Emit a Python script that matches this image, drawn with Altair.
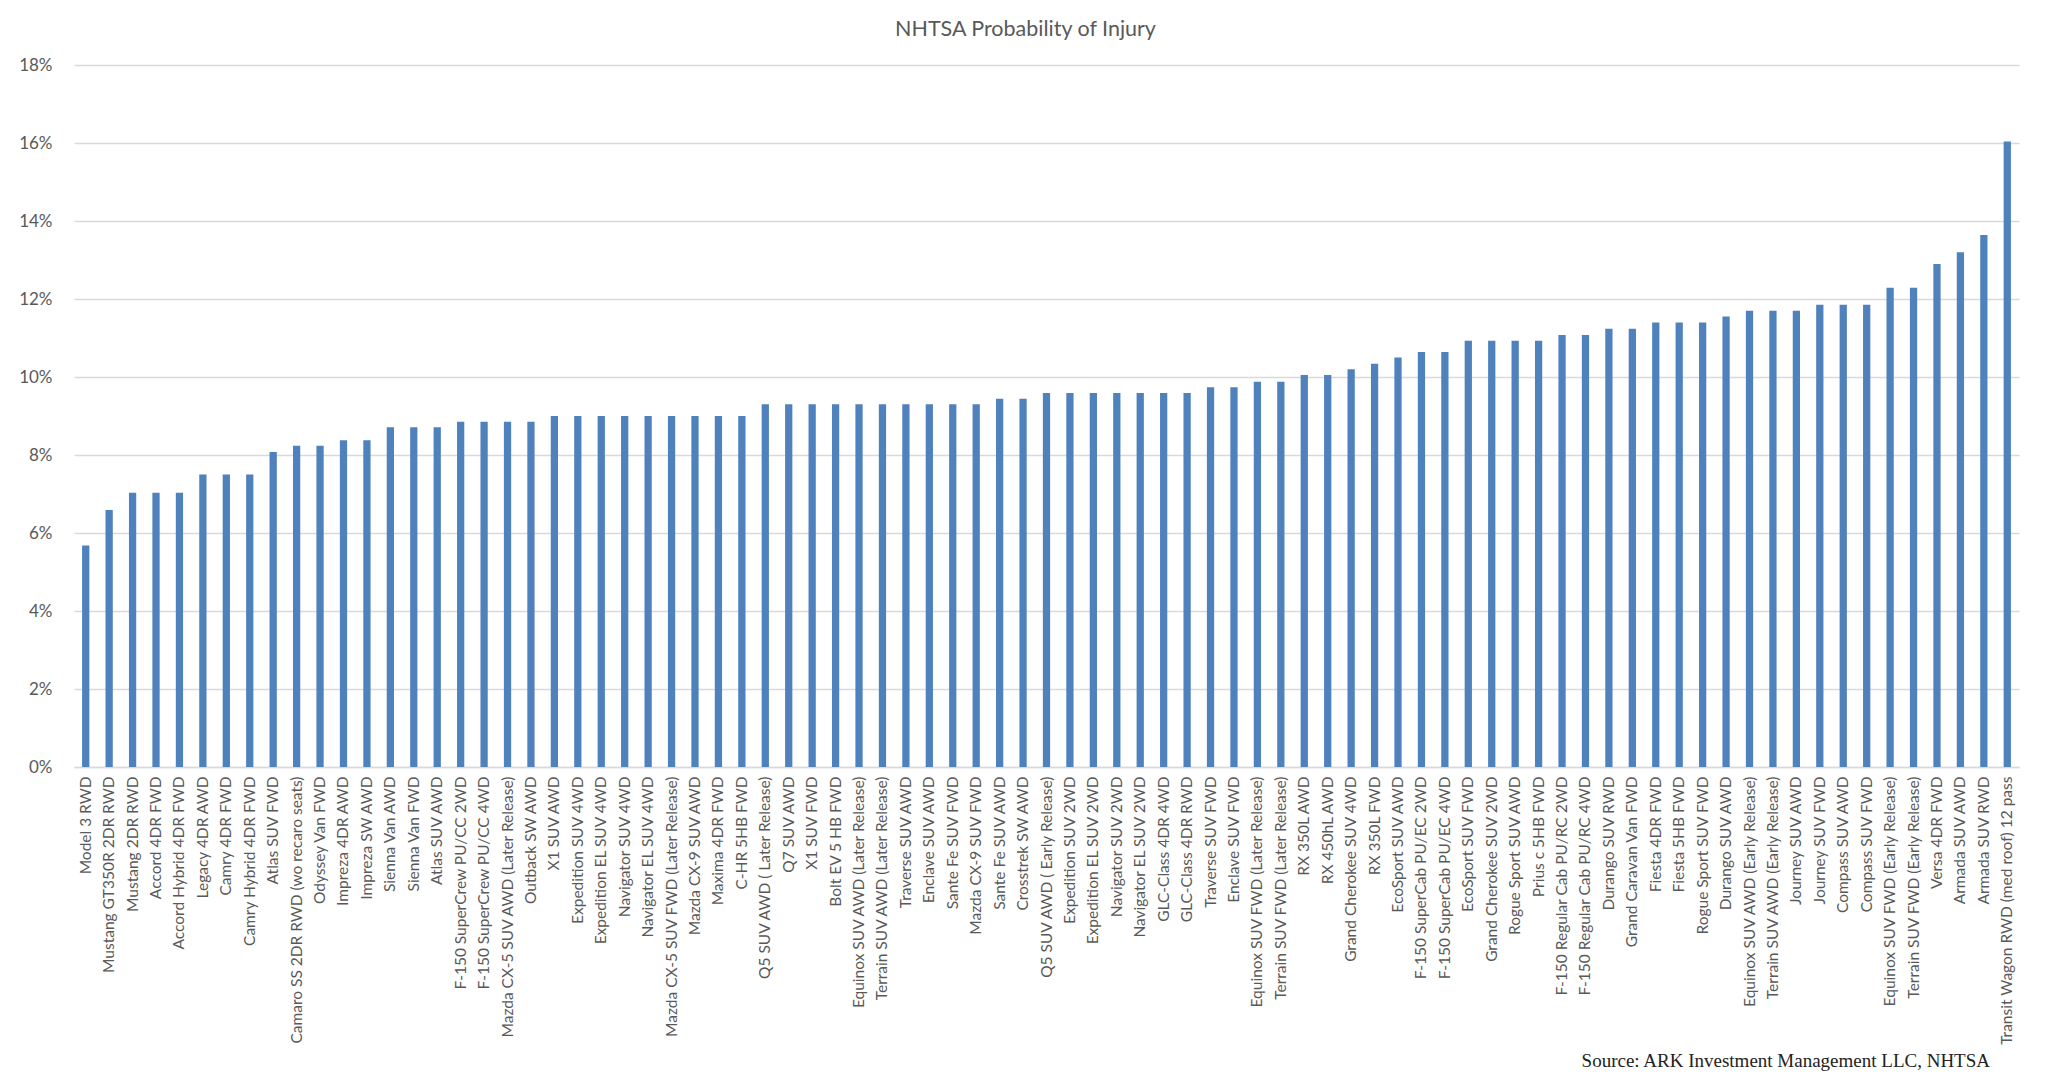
import altair as alt
import pandas as pd

models = [
    "Model 3 RWD", "Mustang GT350R 2DR RWD", "Mustang 2DR RWD", "Accord 4DR FWD",
    "Accord Hybrid 4DR FWD", "Legacy 4DR AWD", "Camry 4DR FWD", "Camry  Hybrid 4DR FWD",
    "Atlas SUV FWD", "Camaro SS 2DR RWD (wo recaro seats)", "Odyssey Van FWD",
    "Impreza 4DR AWD", "Impreza SW AWD", "Sienna Van AWD", "Sienna Van FWD",
    "Atlas SUV AWD", "F-150 SuperCrew PU/CC 2WD", "F-150 SuperCrew PU/CC 4WD",
    "Mazda CX-5 SUV AWD (Later Release)", "Outback SW AWD", "X1 SUV AWD",
    "Expedition SUV 4WD", "Expedition EL SUV 4WD", "Navigator SUV 4WD",
    "Navigator EL SUV 4WD", "Mazda CX-5 SUV FWD (Later Release)", "Mazda CX-9 SUV AWD",
    "Maxima 4DR FWD", "C-HR 5HB FWD", "Q5 SUV AWD ( Later Release)", "Q7 SUV AWD",
    "X1 SUV FWD", "Bolt EV 5 HB FWD", "Equinox SUV AWD (Later Release)",
    "Terrain SUV AWD (Later Release)", "Traverse SUV AWD", "Enclave SUV AWD",
    "Sante Fe SUV FWD", "Mazda CX-9 SUV FWD", "Sante Fe SUV AWD", "Crosstrek SW AWD",
    "Q5 SUV AWD ( Early Release)", "Expedition SUV 2WD", "Expedition EL SUV 2WD",
    "Navigator SUV 2WD", "Navigator EL SUV 2WD", "GLC-Class 4DR 4WD", "GLC-Class 4DR RWD",
    "Traverse SUV FWD", "Enclave SUV FWD", "Equinox SUV FWD (Later Release)",
    "Terrain SUV FWD (Later Release)", "RX 350L AWD", "RX 450hL AWD",
    "Grand Cherokee SUV 4WD", "RX 350L FWD", "EcoSport SUV AWD",
    "F-150 SuperCab PU/EC 2WD", "F-150 SuperCab PU/EC 4WD", "EcoSport SUV FWD",
    "Grand Cherokee SUV 2WD", "Rogue Sport SUV AWD", "Prius c 5HB FWD",
    "F-150 Regular Cab PU/RC 2WD", "F-150 Regular Cab PU/RC 4WD", "Durango SUV RWD",
    "Grand Caravan Van FWD", "Fiesta 4DR FWD", "Fiesta 5HB FWD", "Rogue Sport SUV FWD",
    "Durango SUV AWD", "Equinox SUV AWD (Early Release)", "Terrain SUV AWD (Early Release)",
    "Journey SUV AWD", "Journey SUV FWD", "Compass SUV AWD", "Compass SUV FWD",
    "Equinox SUV FWD (Early Release)", "Terrain SUV FWD (Early Release)", "Versa 4DR FWD",
    "Armada SUV AWD", "Armada SUV RWD", "Transit Wagon RWD (med roof) 12 pass",
]

probability = [
    5.68, 6.59, 7.03, 7.03, 7.03, 7.50, 7.50, 7.50, 8.08, 8.24,
    8.24, 8.38, 8.38, 8.71, 8.71, 8.71, 8.85, 8.85, 8.85, 8.85,
    9.00, 9.00, 9.00, 9.00, 9.00, 9.00, 9.00, 9.00, 9.00, 9.30,
    9.30, 9.30, 9.30, 9.30, 9.30, 9.30, 9.30, 9.30, 9.30, 9.44,
    9.44, 9.59, 9.59, 9.59, 9.59, 9.59, 9.59, 9.59, 9.74, 9.74,
    9.88, 9.88, 10.05, 10.05, 10.20, 10.34, 10.50, 10.64, 10.64, 10.93,
    10.93, 10.93, 10.93, 11.08, 11.08, 11.24, 11.24, 11.40, 11.40, 11.40,
    11.55, 11.70, 11.70, 11.70, 11.85, 11.85, 11.85, 12.29, 12.29, 12.90,
    13.20, 13.64, 16.04,
]

y_ticks = [0, 0.02, 0.04, 0.06, 0.08, 0.10, 0.12, 0.14, 0.16, 0.18]

title_text = "NHTSA Probability of Injury"
source_text = "Source: ARK Investment Management LLC, NHTSA"

df = pd.DataFrame({"model": models, "p": [v / 100 for v in probability]})

W, H = 1945, 702
GRAY = "#595959"
FONT = "Lato"

bars = alt.Chart(df).mark_bar(color="#4F81BD").encode(
    x=alt.X(
        "model:N", sort=None, title=None,
        scale=alt.Scale(paddingInner=0.69, paddingOuter=0.345),
        axis=alt.Axis(
            labelAngle=-90, labelFontSize=15.5, labelColor=GRAY, labelFont=FONT,
            labelLimit=500, labelOverlap=False, labelPadding=9, ticks=False,
            domainColor="#D9D9D9", domainWidth=1.5,
        ),
    ),
    y=alt.Y(
        "p:Q", title=None,
        scale=alt.Scale(domain=[0, 0.18], nice=False),
        axis=alt.Axis(
            values=y_ticks, format=".0%", labelFontSize=17, labelColor=GRAY,
            labelFont=FONT, labelPadding=22, ticks=False, domain=False,
            gridColor="#D9D9D9", gridWidth=1.5,
        ),
    ),
)

title = alt.Chart(pd.DataFrame({"t": [title_text]})).mark_text(
    font=FONT, fontSize=21.5, color=GRAY, align="center", baseline="middle"
).encode(text="t:N", x=alt.value(W / 2 - 21), y=alt.value(-35))

source = alt.Chart(pd.DataFrame({"t": [source_text]})).mark_text(
    font="Liberation Serif", fontSize=19, color="#222222", align="right", baseline="middle"
).encode(text="t:N", x=alt.value(1916), y=alt.value(996))

chart = alt.layer(bars, title, source).properties(
    width=W, height=H,
    autosize=alt.AutoSizeParams(type="none"),
    padding={"left": 66, "top": 57, "right": 20, "bottom": 305},
).configure(background="white").configure_view(stroke=None)

chart.save("out.html", embed_options={"renderer": "svg", "actions": False})
